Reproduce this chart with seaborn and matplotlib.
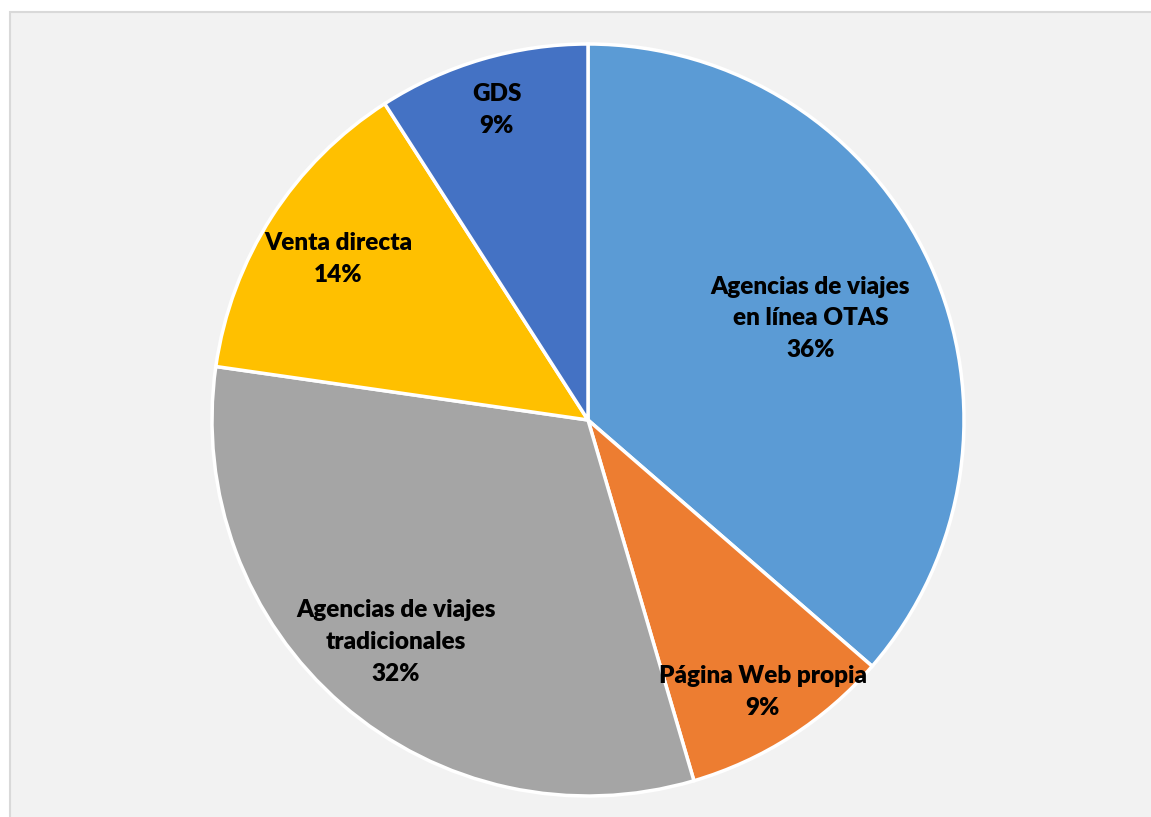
import numpy as np
import matplotlib
matplotlib.use("Agg")
import matplotlib.pyplot as plt
from matplotlib.patches import Rectangle
import seaborn as sns

# Reservation channels (number of responses per channel)
categories = ["Agencias de viajes\nen línea OTAS", "Página Web propia",
              "Agencias de viajes\ntradicionales", "Venta directa", "GDS"]
counts = [8, 2, 7, 3, 2]
colors = ["#5B9BD5", "#ED7D31", "#A5A5A5", "#FFC000", "#4472C4"]

# radial position of each label, as a fraction of the radius
label_dist = [0.65, 0.86, 0.78, 0.79, 0.86]

sns.set_style("white")
plt.rcParams["font.family"] = ["Lato", "DejaVu Sans"]

W, H = 1151, 817
fig = plt.figure(figsize=(W / 100, H / 100), dpi=100, facecolor="white")

# chart area panel with thin border
fig.patches.append(Rectangle((10 / W, -0.01), 1.02, (H - 12) / H + 0.01,
                             transform=fig.transFigure, facecolor="#F2F2F2",
                             edgecolor="#D9D9D9", linewidth=1.5, zorder=-10))

cx, cy, r = 588, H - 420, 376
ax = fig.add_axes([(cx - r) / W, (cy - r) / H, 2 * r / W, 2 * r / H])
ax.set_facecolor("none")
ax.set_zorder(5)

palette = sns.color_palette(colors)
wedges, _ = ax.pie(counts, colors=palette, startangle=90, counterclock=False,
                   radius=1.0, wedgeprops=dict(edgecolor="white", linewidth=2.5))

total = sum(counts)
for w, cat, n, d in zip(wedges, categories, counts, label_dist):
    mid = np.deg2rad((w.theta1 + w.theta2) / 2)
    pct = round(100 * n / total)
    ax.text(d * np.cos(mid), d * np.sin(mid), f"{cat}\n{pct}%",
            ha="center", va="center", fontsize=17.5, fontweight="heavy",
            color="black", linespacing=1.55)

ax.set_xlim(-1, 1)
ax.set_ylim(-1, 1)
ax.set_aspect("equal")
ax.axis("off")

fig.savefig("out.png", dpi=100, facecolor=fig.get_facecolor())
